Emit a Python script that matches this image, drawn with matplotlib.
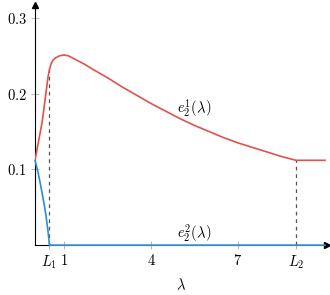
import matplotlib
matplotlib.use("Agg")
import matplotlib.pyplot as plt

plt.rcParams['mathtext.fontset'] = 'cm'
plt.rcParams['font.family'] = 'serif'
plt.rcParams['font.serif'] = ['cmr10', 'DejaVu Serif']
plt.rcParams['axes.unicode_minus'] = False

# e_2^1 (red) and e_2^2 (blue)
lam1 = [0, 0.25, 0.45, 0.5, 0.55, 0.62, 0.7, 0.85, 1.0, 1.15, 1.3, 1.5, 1.7,
        2.0, 2.5, 3, 3.5, 4, 4.5, 5, 5.5, 6, 6.5, 7, 7.5, 8, 8.5, 9, 10]
e21 = [0.112, 0.163, 0.222, 0.232, 0.239, 0.244, 0.247, 0.250, 0.251, 0.250,
       0.247, 0.243, 0.239, 0.232, 0.221, 0.209, 0.198, 0.187, 0.177, 0.167,
       0.158, 0.150, 0.142, 0.135, 0.129, 0.123, 0.117, 0.112, 0.112]
lam2 = [0, 0.1, 0.17, 0.25, 0.32, 0.38, 0.45, 0.5, 10]
e22 = [0.112, 0.097, 0.084, 0.068, 0.053, 0.039, 0.018, 0.0, 0.0]

L1, L2 = 0.5, 9
xticks = [L1, 1, 4, 7, L2]
xticklabels = ['$L_1$', '$1$', '$4$', '$7$', '$L_2$']
yticks = [0.1, 0.2, 0.3]
yticklabels = ['$0.1$', '$0.2$', '$0.3$']

red = '#e0524a'
blue = '#2a8fd4'

fig = plt.figure(figsize=(3.3, 2.95), dpi=100)
ax = fig.add_axes([0.106, 0.169, 0.885, 0.814])

ax.plot([L1, L1], [0, 0.232], ls=(0, (3, 3)), color='#555555', lw=0.9)
ax.plot([L2, L2], [0, 0.112], ls=(0, (3, 3)), color='#555555', lw=0.9)
ax.plot(lam1, e21, color=red, lw=1.2, zorder=3)
ax.plot(lam2, e22, color=blue, lw=1.2, zorder=3, clip_on=False)

ax.set_xlim(0, 10.07)
ax.set_ylim(0, 0.317)
ax.spines['top'].set_visible(False)
ax.spines['right'].set_visible(False)
ax.spines['left'].set_linewidth(0.8)
ax.spines['bottom'].set_linewidth(0.8)
ax.plot(1, 0, marker='>', color='k', ms=4, transform=ax.transAxes, clip_on=False)
ax.plot(0, 1, marker='^', color='k', ms=4, transform=ax.transAxes, clip_on=False)

ax.set_xticks(xticks)
ax.set_xticklabels(xticklabels, fontsize=10.5)
ax.set_yticks(yticks)
ax.set_yticklabels(yticklabels, fontsize=10.5)
ax.tick_params(direction='inout', length=6, width=0.6, color='#aaaaaa', pad=3)
ax.set_xlabel(r'$\lambda$', fontsize=10.5, labelpad=4)

ax.text(5.5, 0.18, r'$e_2^1(\lambda)$', fontsize=10.5, ha='center', va='center')
ax.text(5.5, 0.015, r'$e_2^2(\lambda)$', fontsize=10.5, ha='center', va='center')

fig.savefig('out.png', dpi=100)
